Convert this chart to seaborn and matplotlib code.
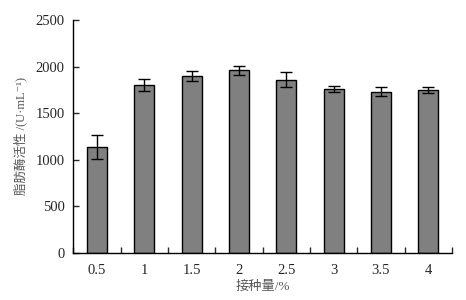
import matplotlib
matplotlib.use("Agg")
import matplotlib.pyplot as plt
import seaborn as sns
import pandas as pd
import numpy as np

categories = ["0.5", "1", "1.5", "2", "2.5", "3", "3.5", "4"]
values = [1135, 1803, 1899, 1960, 1862, 1760, 1730, 1745]
errors = [128, 61, 50, 50, 80, 35, 50, 33]
yticks = [0, 500, 1000, 1500, 2000, 2500]

sns.set_style("ticks")
plt.rcParams['font.family'] = ['Liberation Serif', 'Noto Sans CJK SC', 'DejaVu Serif']

df = pd.DataFrame({"cat": categories, "val": values})

fig = plt.figure(figsize=(4.66, 3.0), dpi=100)
ax = fig.add_axes([0.157, 0.157, 0.813, 0.776])
sns.barplot(data=df, x="cat", y="val", order=categories, color="#808080",
            saturation=1, width=0.42, edgecolor="black", linewidth=1.0,
            errorbar=None, ax=ax)
ax.errorbar(np.arange(len(categories)), values, yerr=errors, fmt="none",
            ecolor="black", elinewidth=1.0, capsize=4, capthick=1.0)

ax.set_xlim(-0.5, len(categories) - 0.5)
ax.set_ylim(0, 2500)
ax.set_yticks(yticks)
ax.set_yticklabels([str(t) for t in yticks])
ax.set_xticks(np.arange(len(categories)))
ax.set_xticklabels(categories)
ax.set_xticks(np.arange(len(categories) + 1) - 0.5, minor=True)
ax.tick_params(axis="x", which="major", length=0, labelsize=10.5, pad=8)
ax.tick_params(axis="x", which="minor", direction="in", length=4, width=1)
ax.tick_params(axis="y", direction="in", length=4, width=1, labelsize=10.5, pad=6)
for s in ["top", "right"]:
    ax.spines[s].set_visible(False)
for s in ["left", "bottom"]:
    ax.spines[s].set_linewidth(1.0)
    ax.spines[s].set_color("black")

ax.set_xlabel("接种量/%", fontsize=9.5, color="#555555", labelpad=3)
ax.set_ylabel("脂肪酶活性 /(U·mL⁻¹)", fontsize=9, color="#555555",
              labelpad=6)

fig.savefig("out.png", dpi=100)
